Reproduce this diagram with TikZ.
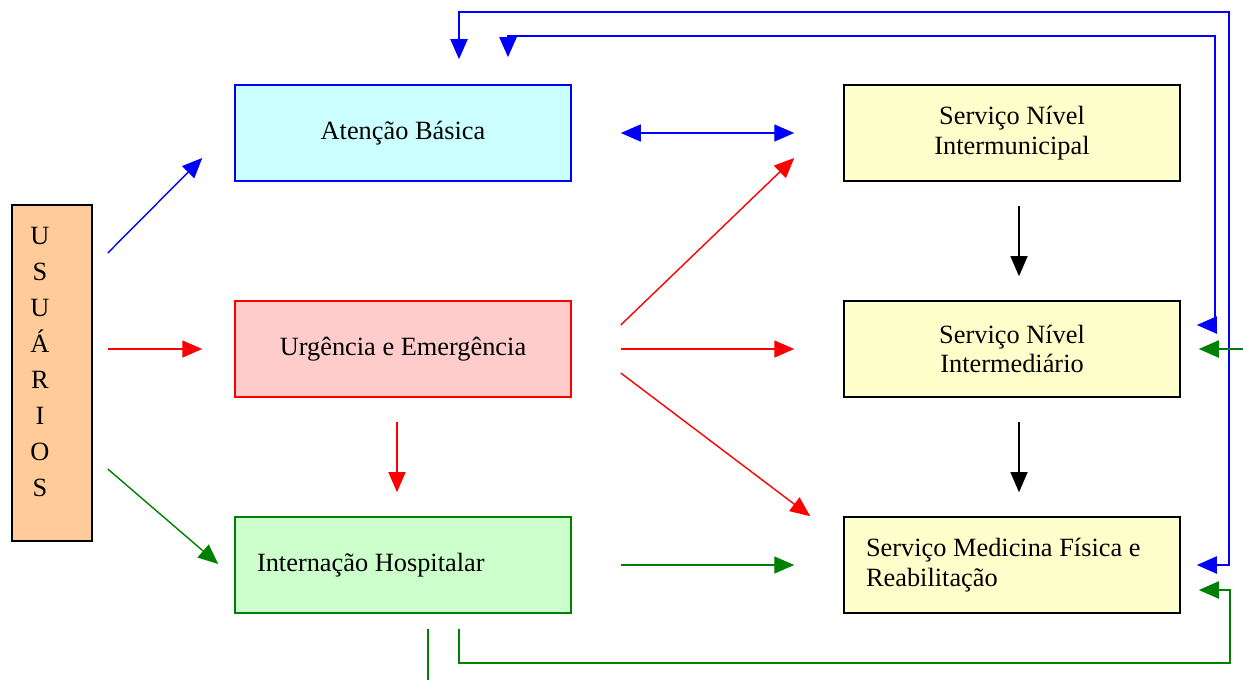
\documentclass[tikz,border=0pt]{standalone}
\usepackage{fontspec}
\setmainfont{Liberation Serif}
\usepackage{tikz}
\usetikzlibrary{arrows.meta}
\definecolor{AB-FILL}{HTML}{CCFFFF}
\definecolor{UE-FILL}{HTML}{FFCCCC}
\definecolor{IH-FILL}{HTML}{CCFFCC}
\definecolor{SV-FILL}{HTML}{FFFFCC}
\definecolor{US-FILL}{HTML}{FFCC99}
\definecolor{DK-GREEN}{HTML}{008000}

\begin{document}
\begin{tikzpicture}[x=0.02cm,y=-0.02cm,
		every path/.style={>={Triangle[length=0.4cm,width=0.34cm]}},
		box/.style={draw,line width=0.9pt,minimum width=6.72cm,minimum height=1.92cm,
			font=\fontsize{15}{17}\selectfont,align=center,inner sep=0pt},
		leftbox/.style={box,text width=5.84cm,align=flush left},
		arr/.style={->,line width=0.8pt},
		fb/.style={line width=1.1pt}]
			\useasboundingbox (0,0) rectangle (1243,679);

			% draw boxes
			\node (usr) at (52,373) [draw,line width=0.9pt,fill=US-FILL,minimum width=1.6cm,minimum height=6.72cm] {};
			\node (usrtxt) at (40,362) [font=\fontsize{15}{20.5}\selectfont,align=center] {U\\S\\U\\Á\\R\\I\\O\\S};
			\node (ab) at (403,133) [box,draw=blue,fill=AB-FILL] {Atenção Básica};
			\node (ue) at (403,349) [box,draw=red,fill=UE-FILL] {Urgência e Emergência};
			\node (ih) at (403,565) [leftbox,draw=DK-GREEN,fill=IH-FILL] {Internação Hospitalar};
			\node (sim) at (1012,133) [box,fill=SV-FILL] {Serviço Nível\\Intermunicipal};
			\node (sit) at (1012,349) [box,fill=SV-FILL] {Serviço Nível\\Intermediário};
			\node (smf) at (1012,565) [leftbox,fill=SV-FILL] {Serviço Medicina Física e\\Reabilitação};

			% draw arrows from users
			\draw[arr,blue] ([shift={(15,-120)}]usr.east) to ([shift={(-32,25)}]ab.west);
			\draw[arr,red] ([shift={(15,-24)}]usr.east) to ([shift={(-32,0)}]ue.west);
			\draw[arr,DK-GREEN] ([shift={(15,96)}]usr.east) to ([shift={(-16,-1)}]ih.west);

			% draw arrows between services
			\draw[arr,<->,blue] ([shift={(49,0)}]ab.east) to ([shift={(-49,0)}]sim.west);
			\draw[arr,red] ([shift={(49,-24)}]ue.east) to ([shift={(-49,25)}]sim.west);
			\draw[arr,red] ([shift={(49,0)}]ue.east) to ([shift={(-49,0)}]sit.west);
			\draw[arr,red] ([shift={(49,24)}]ue.east) to ([shift={(-33,0)}]smf.north west);
			\draw[arr,red] ([shift={(-6,24)}]ue.south) to ([shift={(-6,-24)}]ih.north);
			\draw[arr,DK-GREEN] ([shift={(49,0)}]ih.east) to ([shift={(-49,0)}]smf.west);
			\draw[arr,black] ([shift={(7,24)}]sim.south) to ([shift={(7,-24)}]sit.north);
			\draw[arr,black] ([shift={(7,24)}]sit.south) to ([shift={(7,-24)}]smf.north);

			% draw feedback lines
			\draw[fb,<->,blue] ([shift={(56,-25)}]ab.north) -- ++(0,-47) -| ([shift={(48,0)}]smf.east) -- ([shift={(16,0)}]smf.east);
			\draw[fb,<->,blue] ([shift={(105,-27)}]ab.north) -- ++(0,-21) -| ([shift={(34,-24)}]sit.east) -- ([shift={(16,-24)}]sit.east);
			\draw[fb,->,DK-GREEN] ([shift={(63,0)}]sit.east) -- ([shift={(18,0)}]sit.east);
			\draw[fb,->,DK-GREEN] ([shift={(56,15)}]ih.south) -- ++(0,34) -| ([shift={(49,25)}]smf.east) -- ([shift={(18,25)}]smf.east);
			\draw[fb,DK-GREEN] ([shift={(25,15)}]ih.south) -- ++(0,51);
		\end{tikzpicture}
\end{document}
